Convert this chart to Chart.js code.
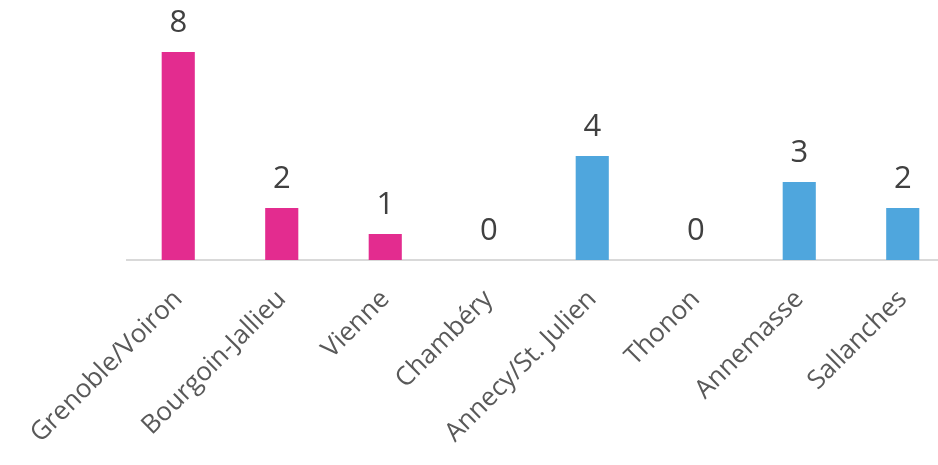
<!DOCTYPE html>
<html>
<head>
<meta charset="utf-8">
<script src="https://cdn.jsdelivr.net/npm/chart.js@4.4.0/dist/chart.umd.min.js"></script>
<style>
  html, body { margin: 0; padding: 0; background: #fff; overflow: hidden; }
  #wrap { width: 938px; height: 465px; overflow: hidden; }
</style>
</head>
<body>
<div id="wrap"><canvas id="chart" width="960" height="465"></canvas></div>
<script>
// Data
var sites = ['Grenoble/Voiron', 'Bourgoin-Jallieu', 'Vienne', 'Chambéry', 'Annecy/St. Julien', 'Thonon', 'Annemasse', 'Sallanches'];
var counts = [8, 2, 1, 0, 4, 0, 3, 2];
var barColors = ['#E32C8F', '#E32C8F', '#E32C8F', '#E32C8F', '#4FA6DD', '#4FA6DD', '#4FA6DD', '#4FA6DD'];

// draws the value above each bar
var valueLabels = {
    id: 'valueLabels',
    afterDatasetsDraw: function (chart) {
        var ctx = chart.ctx;
        var meta = chart.getDatasetMeta(0);
        ctx.save();
        ctx.fillStyle = '#404040';
        ctx.font = '31px "Open Sans"';
        ctx.textAlign = 'center';
        ctx.textBaseline = 'middle';
        meta.data.forEach(function (bar, i) {
            ctx.fillText(String(counts[i]), bar.x, bar.y - 29);
        });
        ctx.restore();
    }
};

var ctx = document.getElementById('chart').getContext('2d');
new Chart(ctx, {
    type: 'bar',
    data: {
        labels: sites,
        datasets: [{
            data: counts,
            backgroundColor: barColors,
            barPercentage: 0.32,
            categoryPercentage: 1.0
        }]
    },
    options: {
        responsive: false,
        animation: false,
        layout: {
            padding: { left: 126.5, right: 5.5, top: 0, bottom: 0 }
        },
        plugins: {
            legend: { display: false },
            tooltip: { enabled: false }
        },
        scales: {
            x: {
                grid: { display: false, drawTicks: false },
                border: { display: true, color: '#d9d9d9', width: 2 },
                ticks: {
                    color: '#595959',
                    font: { family: '"Open Sans"', size: 26 },
                    maxRotation: 45,
                    minRotation: 45,
                    padding: 24,
                    autoSkip: false
                },
                afterFit: function (axis) { axis.height = 205; }
            },
            y: {
                display: false,
                min: 0,
                max: 10
            }
        }
    },
    plugins: [valueLabels]
});
</script>
</body>
</html>
